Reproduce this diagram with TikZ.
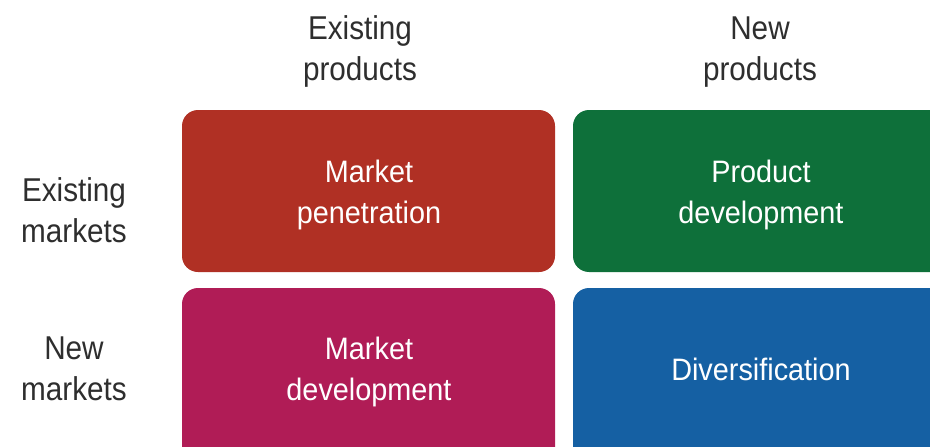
\documentclass[tikz,border=0pt]{standalone}
\usepackage{fontspec}
\setmainfont{Liberation Sans}
\newfontfamily\lblfont{Liberation Sans}[FakeStretch=0.9]
\newfontfamily\boxfont{Liberation Sans}[FakeStretch=0.93]
\definecolor{cred}{HTML}{B03024}
\definecolor{cgreen}{HTML}{0E703A}
\definecolor{cmag}{HTML}{B01C56}
\definecolor{cblue}{HTML}{1560A3}
\definecolor{cgray}{HTML}{2E2E2E}
\begin{document}
\begin{tikzpicture}[x=1pt,y=-1pt,
  cell/.style={rounded corners=16pt},
  lbl/.style={align=center,text=cgray,inner sep=0pt,anchor=base,
    font=\lblfont\fontsize{33}{41}\selectfont},
  boxtxt/.style={align=center,text=white,inner sep=0pt,anchor=base,
    font=\boxfont\fontsize{31}{41}\selectfont}]
\useasboundingbox (0,0) rectangle (930,447);
\fill[cell,cred] (182,110) rectangle (555,272);
\fill[cell,cgreen] (573,110) rectangle (950,272);
\fill[cell,cmag] (182,288) rectangle (555,470);
\fill[cell,cblue] (573,288) rectangle (950,470);
\node[lbl] (ep) at (360,80) {Existing\\products};
\node[lbl] (np) at (760,80) {New\\products};
\node[lbl] (em) at (74,242) {Existing\\markets};
\node[lbl] (nm) at (74,400) {New\\markets};
\node[boxtxt] (mp) at (369,223) {Market\\penetration};
\node[boxtxt] (pd) at (761,223) {Product\\development};
\node[boxtxt] (md) at (369,400) {Market\\development};
\node[boxtxt] (dv) at (761,380) {Diversification};
\end{tikzpicture}
\end{document}
